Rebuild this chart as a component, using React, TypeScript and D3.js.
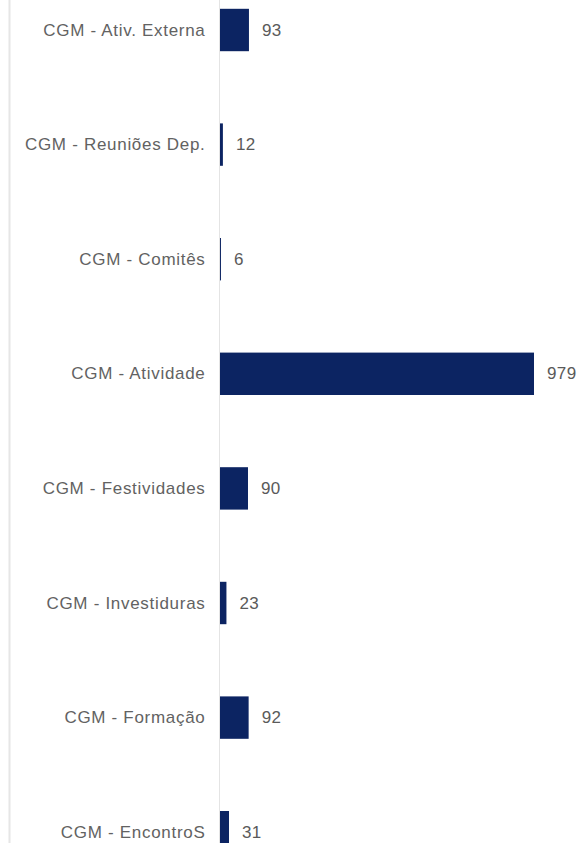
import React from "react";
import * as d3 from "d3";

const categories = [
  "CGM - Ativ. Externa",
  "CGM - Reuniões Dep.",
  "CGM - Comitês",
  "CGM - Atividade",
  "CGM - Festividades",
  "CGM - Investiduras",
  "CGM - Formação",
  "CGM - EncontroS",
];
const values = [93, 12, 6, 979, 90, 23, 92, 31];

const W = 580;
const H = 843;

export default function App() {
  const x = d3.scaleLinear().domain([3, 979]).range([220, 534]);
  const step = 114.6;
  const y = d3
    .scaleBand<string>()
    .domain(categories)
    .range([30 - step / 2, 30 - step / 2 + step * categories.length])
    .paddingInner(0.63)
    .paddingOuter(0.315);
  const bw = y.bandwidth();
  return (
    <svg
      width={W}
      height={H}
      style={{ position: "absolute", left: 0, top: 0, background: "#fff" }}
      fontFamily="Liberation Sans, Arial, sans-serif"
    >
      <line x1={9.5} x2={9.5} y1={0} y2={H} stroke="#e6e6e6" strokeWidth={2} />
      <line x1={219.5} x2={219.5} y1={0} y2={H} stroke="#e4e4e4" strokeWidth={1} />
      {categories.map((c, i) => {
        const v = values[i];
        const y0 = y(c) as number;
        const cy = y0 + bw / 2;
        return (
          <g key={c}>
            <rect
              x={x(3)}
              y={y0}
              width={Math.max(0, x(v) - x(3))}
              height={bw}
              fill="#0c2462"
            />
            <text
              x={205.5}
              y={cy}
              textAnchor="end"
              dominantBaseline="central"
              fontSize={17}
              fill="#626262"
              letterSpacing={0.7}
            >
              {c}
            </text>
            <text
              x={x(v) + 13}
              y={cy}
              dominantBaseline="central"
              fontSize={17}
              fill="#5a5a5a"
              letterSpacing={0.4}
            >
              {v}
            </text>
          </g>
        );
      })}
    </svg>
  );
}
